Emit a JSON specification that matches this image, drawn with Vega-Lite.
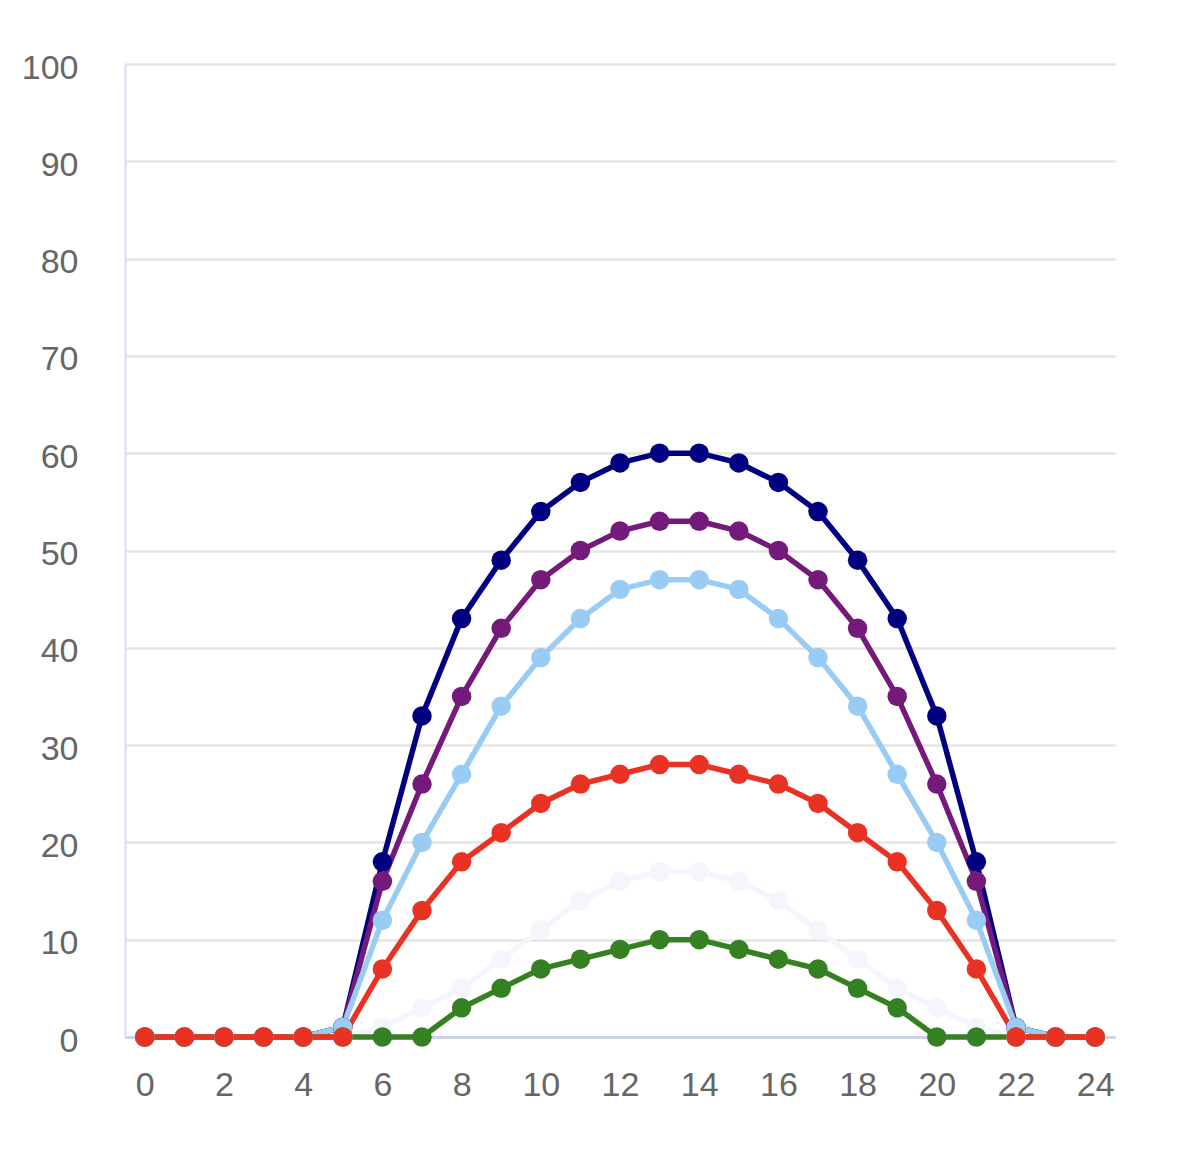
{
  "$schema": "https://vega.github.io/schema/vega-lite/v6.json",
  "autosize": "none",
  "width": 990,
  "height": 973,
  "padding": {"left": 125, "top": 64, "right": 64, "bottom": 134},
  "background": "white",
  "config": {
    "view": {"stroke": null},
    "font": "Liberation Sans",
    "axis": {"labelFont": "Liberation Sans", "labelFontSize": 34, "labelColor": "#666666", "ticks": false, "title": null}
  },
  "datasets": {
    "series": [
      {"h":0,"s":"A","v":0},{"h":1,"s":"A","v":0},{"h":2,"s":"A","v":0},{"h":3,"s":"A","v":0},{"h":4,"s":"A","v":0},{"h":5,"s":"A","v":1},{"h":6,"s":"A","v":18},{"h":7,"s":"A","v":33},{"h":8,"s":"A","v":43},{"h":9,"s":"A","v":49},{"h":10,"s":"A","v":54},{"h":11,"s":"A","v":57},{"h":12,"s":"A","v":59},{"h":13,"s":"A","v":60},{"h":14,"s":"A","v":60},{"h":15,"s":"A","v":59},{"h":16,"s":"A","v":57},{"h":17,"s":"A","v":54},{"h":18,"s":"A","v":49},{"h":19,"s":"A","v":43},{"h":20,"s":"A","v":33},{"h":21,"s":"A","v":18},{"h":22,"s":"A","v":1},{"h":23,"s":"A","v":0},{"h":24,"s":"A","v":0},
      {"h":0,"s":"B","v":0},{"h":1,"s":"B","v":0},{"h":2,"s":"B","v":0},{"h":3,"s":"B","v":0},{"h":4,"s":"B","v":0},{"h":5,"s":"B","v":1},{"h":6,"s":"B","v":16},{"h":7,"s":"B","v":26},{"h":8,"s":"B","v":35},{"h":9,"s":"B","v":42},{"h":10,"s":"B","v":47},{"h":11,"s":"B","v":50},{"h":12,"s":"B","v":52},{"h":13,"s":"B","v":53},{"h":14,"s":"B","v":53},{"h":15,"s":"B","v":52},{"h":16,"s":"B","v":50},{"h":17,"s":"B","v":47},{"h":18,"s":"B","v":42},{"h":19,"s":"B","v":35},{"h":20,"s":"B","v":26},{"h":21,"s":"B","v":16},{"h":22,"s":"B","v":1},{"h":23,"s":"B","v":0},{"h":24,"s":"B","v":0},
      {"h":0,"s":"C","v":0},{"h":1,"s":"C","v":0},{"h":2,"s":"C","v":0},{"h":3,"s":"C","v":0},{"h":4,"s":"C","v":0},{"h":5,"s":"C","v":1},{"h":6,"s":"C","v":12},{"h":7,"s":"C","v":20},{"h":8,"s":"C","v":27},{"h":9,"s":"C","v":34},{"h":10,"s":"C","v":39},{"h":11,"s":"C","v":43},{"h":12,"s":"C","v":46},{"h":13,"s":"C","v":47},{"h":14,"s":"C","v":47},{"h":15,"s":"C","v":46},{"h":16,"s":"C","v":43},{"h":17,"s":"C","v":39},{"h":18,"s":"C","v":34},{"h":19,"s":"C","v":27},{"h":20,"s":"C","v":20},{"h":21,"s":"C","v":12},{"h":22,"s":"C","v":1},{"h":23,"s":"C","v":0},{"h":24,"s":"C","v":0},
      {"h":0,"s":"D","v":0},{"h":1,"s":"D","v":0},{"h":2,"s":"D","v":0},{"h":3,"s":"D","v":0},{"h":4,"s":"D","v":0},{"h":5,"s":"D","v":0},{"h":6,"s":"D","v":1},{"h":7,"s":"D","v":3},{"h":8,"s":"D","v":5},{"h":9,"s":"D","v":8},{"h":10,"s":"D","v":11},{"h":11,"s":"D","v":14},{"h":12,"s":"D","v":16},{"h":13,"s":"D","v":17},{"h":14,"s":"D","v":17},{"h":15,"s":"D","v":16},{"h":16,"s":"D","v":14},{"h":17,"s":"D","v":11},{"h":18,"s":"D","v":8},{"h":19,"s":"D","v":5},{"h":20,"s":"D","v":3},{"h":21,"s":"D","v":1},{"h":22,"s":"D","v":0},{"h":23,"s":"D","v":0},{"h":24,"s":"D","v":0},
      {"h":0,"s":"E","v":0},{"h":1,"s":"E","v":0},{"h":2,"s":"E","v":0},{"h":3,"s":"E","v":0},{"h":4,"s":"E","v":0},{"h":5,"s":"E","v":0},{"h":6,"s":"E","v":0},{"h":7,"s":"E","v":0},{"h":8,"s":"E","v":3},{"h":9,"s":"E","v":5},{"h":10,"s":"E","v":7},{"h":11,"s":"E","v":8},{"h":12,"s":"E","v":9},{"h":13,"s":"E","v":10},{"h":14,"s":"E","v":10},{"h":15,"s":"E","v":9},{"h":16,"s":"E","v":8},{"h":17,"s":"E","v":7},{"h":18,"s":"E","v":5},{"h":19,"s":"E","v":3},{"h":20,"s":"E","v":0},{"h":21,"s":"E","v":0},{"h":22,"s":"E","v":0},{"h":23,"s":"E","v":0},{"h":24,"s":"E","v":0},
      {"h":0,"s":"F","v":0},{"h":1,"s":"F","v":0},{"h":2,"s":"F","v":0},{"h":3,"s":"F","v":0},{"h":4,"s":"F","v":0},{"h":5,"s":"F","v":0},{"h":6,"s":"F","v":7},{"h":7,"s":"F","v":13},{"h":8,"s":"F","v":18},{"h":9,"s":"F","v":21},{"h":10,"s":"F","v":24},{"h":11,"s":"F","v":26},{"h":12,"s":"F","v":27},{"h":13,"s":"F","v":28},{"h":14,"s":"F","v":28},{"h":15,"s":"F","v":27},{"h":16,"s":"F","v":26},{"h":17,"s":"F","v":24},{"h":18,"s":"F","v":21},{"h":19,"s":"F","v":18},{"h":20,"s":"F","v":13},{"h":21,"s":"F","v":7},{"h":22,"s":"F","v":0},{"h":23,"s":"F","v":0},{"h":24,"s":"F","v":0}
    ]
  },
  "data": {"name": "series"},
  "encoding": {
    "x": {"field": "h", "type": "quantitative",
      "scale": {"domain": [-0.5, 24.5], "nice": false, "zero": false},
      "axis": {"values": [0,2,4,6,8,10,12,14,16,18,20,22,24], "grid": false, "domainColor": "#cdd4ea", "domainWidth": 3, "labelPadding": 31}},
    "y": {"field": "v", "type": "quantitative",
      "scale": {"domain": [0, 100], "nice": false},
      "axis": {"values": [0,10,20,30,40,50,60,70,80,90,100], "grid": true, "gridColor": "#e4e4e4", "gridWidth": 2.5, "domainColor": "#d8ddf0", "domainWidth": 2, "labelPadding": 47, "labelBaseline": "middle", "labelOffset": 4}},
    "color": {"field": "s", "type": "nominal", "legend": null,
      "scale": {"domain": ["A","B","C","D","E","F"], "range": ["#000080","#741A7A","#99CCF5","#F5F5FD","#358022","#E83324"]}}
  },
  "mark": {"type": "line", "strokeWidth": 5.5, "point": {"filled": true, "size": 380, "opacity": 1}}
}
